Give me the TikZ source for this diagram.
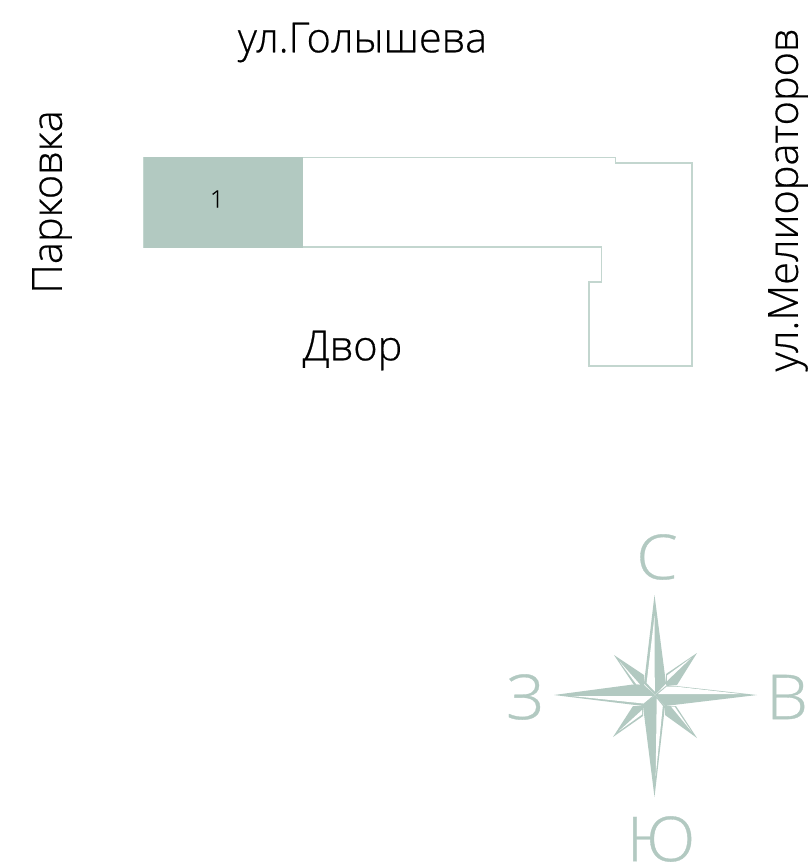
\documentclass[tikz,border=0pt]{standalone}
\usepackage{fontspec}
\setmainfont[UprightFont={* Light},RawFeature={embolden=0.5}]{Open Sans}
\definecolor{sage}{HTML}{B2C9C1}
\definecolor{sageline}{HTML}{C3D6CF}
\tikzset{
  label/.style={inner sep=0pt,text=black,font=\fontsize{41.5}{41.5}\selectfont},
  compass/.style={inner sep=0pt,text=sage,xscale=1.08,font=\fontsize{62}{62}\selectfont},
  starfill/.style={fill=sage,draw=none},
  starhole/.style={fill=white,draw=none},
  wall/.style={draw=sageline,line width=1.8pt,line join=miter}
}
\begin{document}
\begin{tikzpicture}[x=1pt,y=-1pt]
\useasboundingbox (0,0) rectangle (811,863);
\fill[white] (0,0) rectangle (811,863);
% building
\draw[wall] (144,157.5) -- (615.5,157.5) -- (615.5,163) -- (692,163) -- (692,366) -- (589,366) -- (589,282) -- (601.5,282) -- (601.5,247) -- (144,247) -- cycle;
\fill[sage] (144,157) rectangle (303,247.5);
\node[inner sep=0pt,text=black,font=\fontsize{24}{24}\selectfont] (unit) at (217,199) {1};
% labels
\node[label] (north) at (362.5,42.5) {ул.Голышева};
\node[label] (yard) at (352.5,350.5) {Двор};
\node[label,rotate=90] (park) at (52,202) {Парковка};
\node[label,rotate=90] (east) at (788,200) {ул.Мелиораторов};
% compass letters
\node[compass] (c) at (657,557) {С};
\node[compass] (z) at (525,697) {З};
\node[compass] (v) at (787,697) {В};
\node[compass] (yu) at (661,839) {Ю};
% diagonal arms
\fill[starfill] (697,653) -- (666,674) -- (666,685) -- (677,685) -- cycle;
\fill[starhole] (691,658) -- (667,675.5) -- (667,681) -- cycle;
\fill[starfill] (614,655) -- (644,675) -- (644,685) -- (634,685) -- cycle;
\fill[starhole] (619.5,661.5) -- (636.5,684.5) -- (640,684.5) -- cycle;
\fill[starfill] (613,737) -- (643,716) -- (643,706) -- (633,706) -- cycle;
\fill[starhole] (619,731) -- (642,714.5) -- (642,710) -- cycle;
\fill[starfill] (697,738) -- (665,715) -- (665,706) -- (676,706) -- cycle;
\fill[starhole] (691.5,731.5) -- (674.5,706.5) -- (671,706.5) -- cycle;
% main arms: green kite with one half cut out in white
\fill[starfill] (654.5,595) -- (666,683.5) -- (655,695) -- (644,683.5) -- cycle;
\fill[starhole] (654.5,616) -- (654.8,691.5) -- (646.6,683) -- cycle;
\fill[starfill] (757,695) -- (667,685) -- (655,695) -- (665,706) -- cycle;
\fill[starhole] (741,694) -- (676.7,686.7) -- (666.5,686.7) -- (658,694) -- cycle;
\fill[starfill] (654.5,797) -- (643,706) -- (655,695) -- (665,706) -- cycle;
\fill[starhole] (655.7,776) -- (662.8,706) -- (656.7,698.5) -- cycle;
\fill[starfill] (554,695) -- (633,684.5) -- (644,685) -- (655,695) -- (643.5,706) -- cycle;
\fill[starhole] (572,696) -- (643.5,703.5) -- (652.5,696) -- cycle;
\end{tikzpicture}
\end{document}
